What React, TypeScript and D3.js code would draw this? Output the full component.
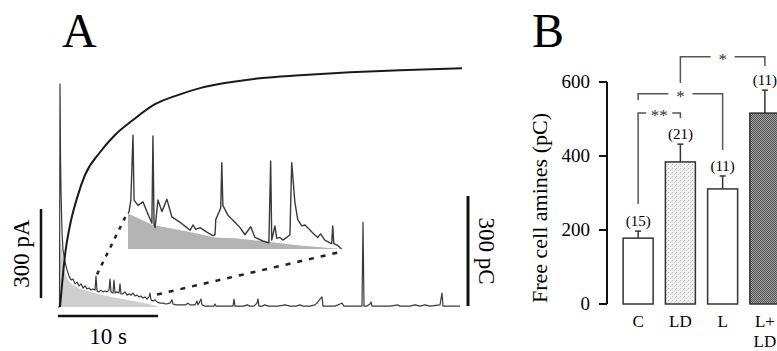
import React from 'react';
import * as d3 from 'd3';

// Panel A: amperometric trace (time in s, current in pA)
const traceT = [0, 0.15, 0.2, 0.25, 0.3, 0.4, 0.5, 0.7, 0.9, 1.1, 1.3, 1.5, 1.7, 1.9, 2.1, 2.3, 2.5, 2.7, 2.9, 3.1, 3.3, 3.5, 3.7, 3.8, 3.9, 4.1, 4.3, 4.5, 4.7, 4.9, 5.1, 5.2, 5.3, 5.5, 5.6, 5.7, 5.9, 6.1, 6.2, 6.3, 6.5, 6.7, 6.9, 7.1, 7.3, 7.5, 7.7, 7.9, 8.1, 8.3, 8.5, 8.7, 8.9, 9.1, 9.2, 9.3, 9.5, 9.7, 9.9, 10.2, 10.5, 10.8, 11.2, 11.4, 11.5, 11.8, 12.2, 12.7, 13, 13.2, 13.7, 13.9, 14, 14.3, 14.4, 14.7, 15.2, 15.6, 15.7, 15.8, 16.4, 16.8, 17.2, 17.5, 17.6, 17.7, 18.2, 18.6, 18.9, 19.2, 19.6, 19.9, 20, 20.1, 20.4, 20.7, 21, 21.7, 22, 22.7, 23.2, 23.8, 24.2, 24.5, 25.2, 25.7, 26, 26.2, 26.4, 26.5, 27.2, 27.7, 28.2, 28.4, 28.6, 29.2, 29.7, 30.4, 30.5, 30.6, 30.9, 31.2, 31.3, 31.4, 32.2, 33.2, 34, 34.2, 35.2, 35.7, 36.2, 36.7, 37.2, 38.2, 38.4, 38.5, 39.7, 40.2];
const traceI = [0, 0, 752, 520, 394, 253, 192, 152, 125, 104, 91, 94, 78, 84, 71, 78, 64, 71, 61, 64, 57, 61, 57, 104, 54, 51, 57, 51, 54, 51, 57, 94, 51, 47, 91, 47, 51, 47, 78, 44, 44, 51, 40, 44, 40, 47, 37, 40, 34, 37, 30, 34, 27, 34, 47, 24, 20, 24, 17, 13, 13, 10, 13, 24, 10, 7, 7, 7, 13, 7, 7, 20, 7, 27, 7, 3, 3, 3, 10, 3, 3, 3, 3, 3, 27, 3, 3, 3, 7, 3, 3, 13, 27, 3, 3, 7, 3, 3, 3, 7, 3, 3, 7, 3, 3, 7, 17, 27, 34, 3, 3, 3, 10, 13, 3, 3, 3, 3, 286, 3, 3, 10, 17, 3, 3, 3, 7, 3, 3, 7, 3, 7, 3, 7, 47, 3, 3, 3];

// background under the trace (shaded)
const baseT = [0.15, 0.2, 0.4, 0.6, 0.9, 1.3, 2, 3, 4.2, 5.5, 7, 8.5, 9.9];
const baseI = [0, 230, 190, 130, 95, 78, 64, 54, 42, 33, 24, 14, 3];

// cumulative charge (pC)
const chargeT = [0.2, 0.4, 0.7, 1.2, 1.9, 2.7, 4.2, 5.7, 7.5, 9.7, 12.2, 14.2, 17.2, 20.2, 24.2, 29.2, 34.2, 40.4];
const chargeQ = [0, 60, 142, 223, 297, 360, 422, 469, 510, 553, 580, 597, 613, 624, 632, 640, 646, 651];

// expanded segment (inset)
const insetT = [3.9, 3.93, 3.98, 4.04, 4.07, 4.18, 4.32, 4.43, 4.57, 4.6, 4.63, 4.66, 4.74, 4.85, 4.99, 5.13, 5.36, 5.55, 5.64, 5.72, 5.8, 5.92, 6.11, 6.28, 6.34, 6.36, 6.5, 6.53, 6.56, 6.7, 6.9, 7.04, 7.18, 7.34, 7.46, 7.68, 7.85, 7.9, 7.93, 8.02, 8.07, 8.16, 8.24, 8.35, 8.44, 8.49, 8.58, 8.66, 8.77, 8.86, 8.94, 9.08, 9.22, 9.3, 9.42, 9.56, 9.61, 9.64, 9.67, 9.78, 9.89];
const insetI = [40, 42, 55, 128, 55, 49, 53, 42, 29, 127, 28, 24, 55, 42, 56, 36, 30, 24, 21, 27, 22, 24, 19, 15, 16, 33, 46, 97, 49, 38, 30, 24, 16, 25, 13, 9, 7, 99, 10, 26, 12, 13, 10, 13, 16, 97, 52, 33, 26, 27, 24, 18, 13, 17, 10, 7, 6, 26, 6, 4, 0];
const insetBaseT = [3.9, 4.6, 5.64, 6.34, 6.9, 7.88, 8.72, 9.89];
const insetBaseI = [40, 27, 19, 13, 12, 8, 4, 0];

// Panel B
const groups = ['C', 'LD', 'L', 'L+LD'];
const groupLines = [['C'], ['LD'], ['L'], ['L+', 'LD']];
const means = [178, 384, 311, 516];
const sems = [19, 48, 35, 62];
const counts = [15, 21, 11, 11];
const yTicks = [0, 200, 400, 600];

const serif = "'Liberation Serif', 'Times New Roman', serif";

export default function App() {
  // ----- panel A scales
  const xA = d3.scaleLinear().domain([0, 40]).range([58, 458]);
  const yA = d3.scaleLinear().domain([0, 300]).range([307, 218]);
  const yQ = d3.scaleLinear().domain([0, 300]).range([307, 197]);
  const xI = d3.scaleLinear().domain([3.9, 9.9]).range([128, 342]);
  const yI = d3.scaleLinear().domain([0, 100]).range([249, 160]);

  const trace = d3.line<number>().x((t) => xA(t)).y((_, i) => yA(traceI[i]))(traceT) || '';
  const baseArea = d3.area<number>().x((t) => xA(t)).y0(yA(0)).y1((_, i) => yA(baseI[i]))(baseT) || '';
  const charge = d3.line<number>().x((t) => xA(t)).y((_, i) => yQ(chargeQ[i])).curve(d3.curveMonotoneX)(chargeT) || '';
  const inset = d3.line<number>().x((t) => xI(t)).y((_, i) => yI(insetI[i]))(insetT) || '';
  const insetArea = d3.area<number>().x((t) => xI(t)).y0(yI(0)).y1((_, i) => yI(insetBaseI[i]))(insetBaseT) || '';

  // ----- panel B scales
  const xB = d3.scaleBand().domain(groups).range([617, 786]).paddingInner(0.29).paddingOuter(0.145);
  const yB = d3.scaleLinear().domain([0, 600]).range([304, 82]);
  const cx = (g: string) => (xB(g) || 0) + xB.bandwidth() / 2;
  const fills = ['#fff', 'url(#ldFill)', '#fff', 'url(#lldFill)'];

  const brackets = [
    { a: 'C', b: 'LD', y: 516, ya: 270, yb: 503, label: '**', gap: 13 },
    { a: 'C', b: 'L', y: 568, ya: 551, yb: 416, label: '*', gap: 12 },
    { a: 'LD', b: 'L+LD', y: 668, ya: 597, yb: 643, label: '*', gap: 12 },
  ];

  const pA300 = yA(0) - yA(300);
  const pC300 = yQ(0) - yQ(300);

  return (
    <svg width={777} height={351} style={{ position: 'absolute', left: 0, top: 0, display: 'block' }} fontFamily={serif}>
      <defs>
        <pattern id="ldFill" width="4" height="4" patternUnits="userSpaceOnUse">
          <rect width="4" height="4" fill="#f1f1f1" />
          <rect x="0" y="0" width="1" height="1" fill="#bdbdbd" />
          <rect x="2" y="2" width="1" height="1" fill="#cfcfcf" />
          <rect x="3" y="1" width="1" height="1" fill="#d8d8d8" />
        </pattern>
        <pattern id="lldFill" width="2" height="2" patternUnits="userSpaceOnUse">
          <rect width="2" height="2" fill="#a0a0a0" />
          <rect x="0" y="0" width="1" height="1" fill="#555" />
          <rect x="1" y="1" width="1" height="1" fill="#555" />
        </pattern>
      </defs>
      <rect width={777} height={351} fill="#fff" />

      {/* ===== Panel A ===== */}
      <text x={62} y={47} fontSize={48}>A</text>
      <path d={baseArea} fill="#cfcfcf" />
      <path d={trace} fill="none" stroke="#3a3a3a" strokeWidth={1.2} strokeLinejoin="round" />
      <path d={charge} fill="none" stroke="#1a1a1a" strokeWidth={2} />

      <path d={insetArea} fill="#b4b4b4" />
      <path d={inset} fill="none" stroke="#3a3a3a" strokeWidth={1.4} strokeLinejoin="round" />

      <line x1={xA(3.9)} y1={yA(110)} x2={xI(3.85)} y2={yI(38)} stroke="#222" strokeWidth={2.5} strokeDasharray="4 6" />
      <line x1={xA(9.9)} y1={yA(42)} x2={xI(9.89)} y2={yI(-3)} stroke="#222" strokeWidth={2.5} strokeDasharray="5 7" />

      {/* scale bars */}
      <line x1={41} x2={41} y1={298} y2={298 - pA300} stroke="#111" strokeWidth={2.5} />
      <text transform={`translate(29,${298 - pA300 / 2}) rotate(-90)`} textAnchor="middle" fontSize={23}>300 pA</text>
      <line x1={xA(0)} x2={xA(10)} y1={316} y2={316} stroke="#111" strokeWidth={2.5} />
      <text x={(xA(0) + xA(10)) / 2} y={344} textAnchor="middle" fontSize={23}>10 s</text>
      <line x1={468} x2={468} y1={306} y2={306 - pC300} stroke="#111" strokeWidth={3} />
      <text transform={`translate(479,${306 - pC300 / 2}) rotate(90)`} textAnchor="middle" fontSize={23}>300 pC</text>

      {/* ===== Panel B ===== */}
      <text x={532} y={47} fontSize={48}>B</text>
      <line x1={607} x2={607} y1={yB(600)} y2={yB(0)} stroke="#111" strokeWidth={2} />
      {yTicks.map((v) => (
        <g key={v}>
          <line x1={599} x2={607} y1={yB(v)} y2={yB(v)} stroke="#111" strokeWidth={2} />
          <text x={590} y={yB(v) + 6} textAnchor="end" fontSize={19}>{v}</text>
        </g>
      ))}
      <text transform={`translate(547,208) rotate(-90)`} textAnchor="middle" fontSize={22}>Free cell amines (pC)</text>

      {groups.map((g, i) => {
        const x = xB(g) || 0;
        const c = cx(g);
        const top = yB(means[i] + sems[i]);
        return (
          <g key={g}>
            <line x1={c} x2={c} y1={yB(means[i])} y2={top} stroke="#333" strokeWidth={1.5} />
            <line x1={c - 3} x2={c + 3} y1={top} y2={top} stroke="#333" strokeWidth={1.5} />
            <rect x={x} y={yB(means[i])} width={xB.bandwidth()} height={yB(0) - yB(means[i])} fill={fills[i]} stroke="#333" strokeWidth={1.5} />
            <text x={c} y={top - 5} textAnchor="middle" fontSize={15}>({counts[i]})</text>
            {groupLines[i].map((s, k) => (
              <text key={k} x={c} y={327 + k * 20} textAnchor="middle" fontSize={17}>{s}</text>
            ))}
          </g>
        );
      })}

      {brackets.map((b, i) => {
        const xa = cx(b.a);
        const xb = cx(b.b);
        const xm = (xa + xb) / 2;
        const y = yB(b.y);
        return (
          <g key={i} stroke="#555" strokeWidth={1.5} fill="none">
            <path d={`M${xa},${yB(b.ya)}V${y}H${xm - b.gap}`} />
            <path d={`M${xm + b.gap},${y}H${xb}V${yB(b.yb)}`} />
            <text x={xm} y={y + 8} textAnchor="middle" fontSize={17} fill="#333" stroke="none">{b.label}</text>
          </g>
        );
      })}
    </svg>
  );
}
